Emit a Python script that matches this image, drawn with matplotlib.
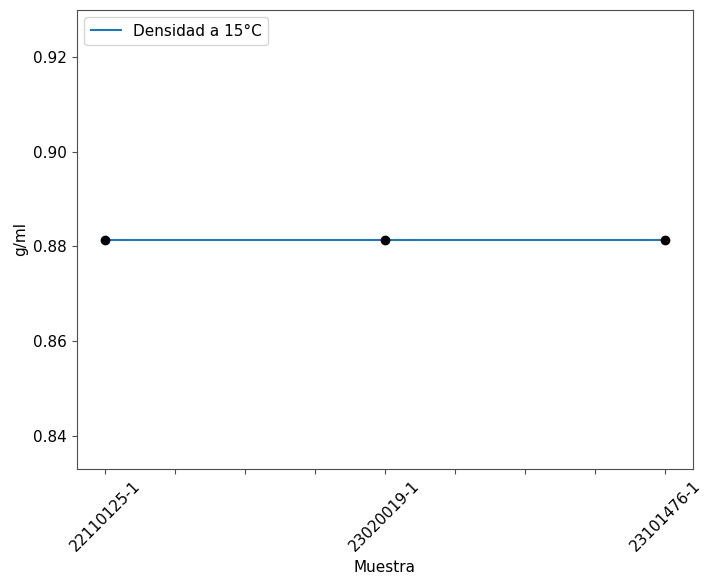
import numpy as np
import matplotlib
matplotlib.use("Agg")
import matplotlib.pyplot as plt

muestras = ["22110125-1", "23020019-1", "23101476-1"]
densidad = [0.8814, 0.8814, 0.8814]

plt.rcParams["font.size"] = 11

fig = plt.figure(figsize=(7.18, 5.78), dpi=100)
ax = fig.add_axes([0.107, 0.189, 0.858, 0.794])

x = np.arange(len(muestras))
ax.plot(x, densidad, color="C0", label="Densidad a 15°C")
ax.plot(x, densidad, "o", color="black", markersize=6)

ticks = np.arange(0, len(muestras) - 1 + 0.01, 0.25)
labels = [muestras[int(t)] if float(t).is_integer() else "" for t in ticks]
ax.set_xticks(ticks)
ax.set_xticklabels(labels, rotation=45)
ax.set_xlim(-0.1, 2.1)
ax.set_ylim(0.833, 0.930)
ax.set_yticks([0.84, 0.86, 0.88, 0.90, 0.92])
for s in ax.spines.values():
    s.set_color("0.3")
ax.tick_params(color="0.3")

ax.set_xlabel("Muestra")
ax.set_ylabel("g/ml")
ax.legend(loc="upper left")

fig.savefig("out.png", dpi=100)
